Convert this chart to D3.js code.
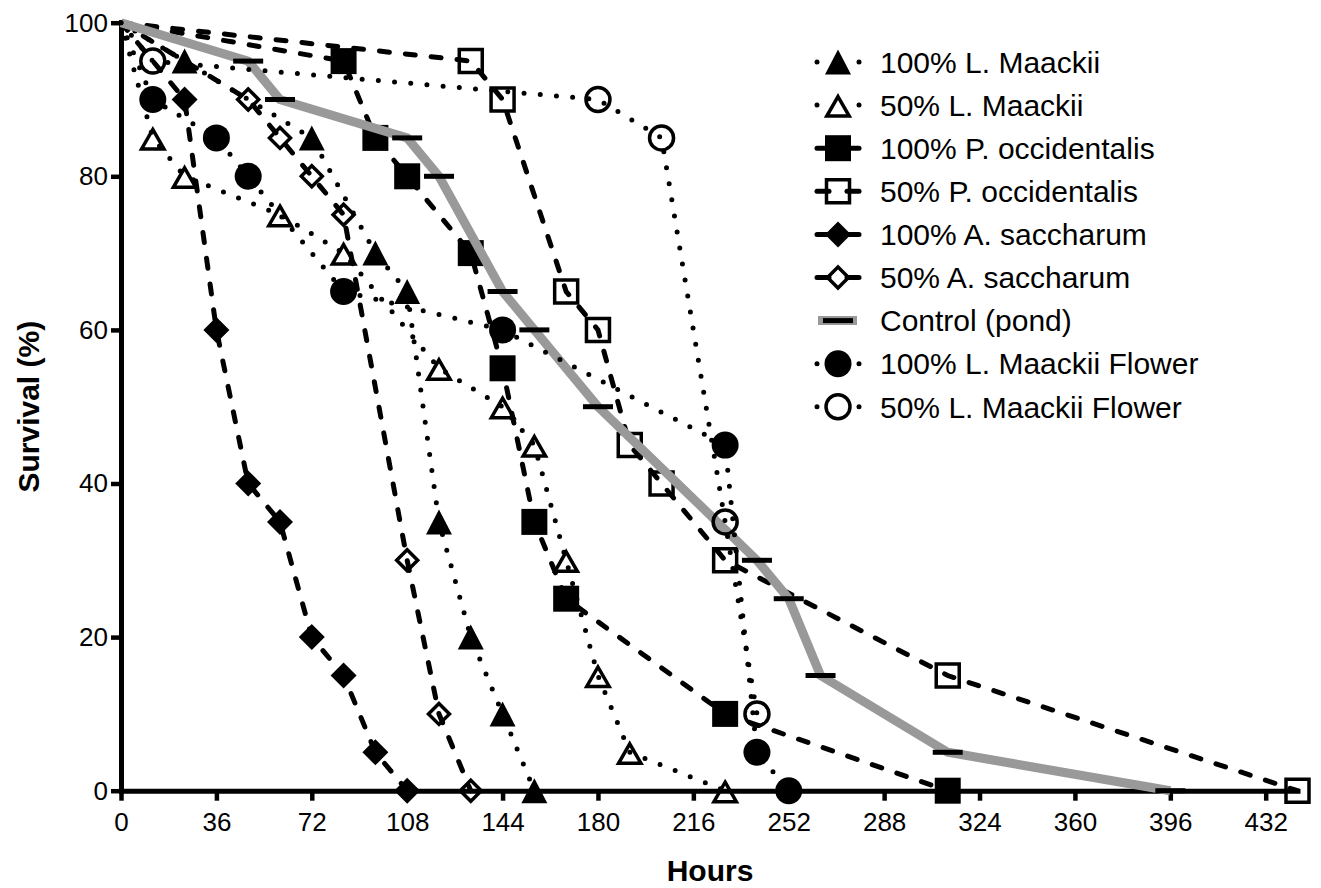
<!DOCTYPE html>
<html>
<head>
<meta charset="utf-8">
<title>Survival</title>
<script src="https://cdnjs.cloudflare.com/ajax/libs/d3/7.8.5/d3.min.js"></script>
<style>
    body { margin: 0; background: #fff; }
    svg { display: block; font-family: "Liberation Sans", Arial, Helvetica, sans-serif; }
    .axis .domain { stroke: #000; stroke-width: 5; fill: none; stroke-linecap: square; }
    .axis line { stroke: #000; stroke-width: 4.5; }
    .axis text { font-size: 26px; fill: #000; }
</style>
</head>
<body>
<script>
// values (hours, survival %)
var hoursTicks = [0, 36, 72, 108, 144, 180, 216, 252, 288, 324, 360, 396, 432];
var survivalTicks = [0, 20, 40, 60, 80, 100];

var lMaackii100 = [[0,100],[24,95],[72,85],[96,70],[108,65],[120,35],[132,20],[144,10],[156,0]];
var lMaackii50 = [[0,100],[12,85],[24,80],[60,75],[84,70],[120,55],[144,50],[156,45],[168,30],[180,15],[192,5],[228,0]];
var pOccidentalis100 = [[0,100],[84,95],[96,85],[108,80],[132,70],[144,55],[156,35],[168,25],[228,10],[312,0]];
var pOccidentalis50 = [[0,100],[132,95],[144,90],[168,65],[180,60],[192,45],[204,40],[228,30],[312,15],[444,0]];
var aSaccharum100 = [[0,100],[24,90],[36,60],[48,40],[60,35],[72,20],[84,15],[96,5],[108,0]];
var aSaccharum50 = [[0,100],[48,90],[60,85],[72,80],[84,75],[108,30],[120,10],[132,0]];
var controlPond = [[0,100],[48,95],[60,90],[108,85],[120,80],[144,65],[156,60],[180,50],[240,30],[252,25],[264,15],[312,5],[396,0]];
var flower100 = [[0,100],[12,90],[36,85],[48,80],[84,65],[144,60],[228,45],[240,5],[252,0]];
var flower50 = [[0,100],[12,95],[180,90],[204,85],[228,35],[240,10]];

var seriesNames = ["100% L. Maackii", "50% L. Maackii", "100% P. occidentalis", "50% P. occidentalis",
    "100% A. saccharum", "50% A. saccharum", "Control (pond)", "100% L. Maackii Flower", "50% L. Maackii Flower"];
var seriesData = [lMaackii100, lMaackii50, pOccidentalis100, pOccidentalis50,
    aSaccharum100, aSaccharum50, controlPond, flower100, flower50];
var seriesMarker = ["triFill", "triOpen", "sqFill", "sqOpen", "diaFill", "diaOpen", "bar", "cirFill", "cirOpen"];
var seriesLine = ["dot", "dot", "dash", "dash", "dash", "dash", "grey", "dot", "dot"];

var W = 1321, H = 888;
var svg = d3.select("body").append("svg").attr("width", W).attr("height", H);

var x = d3.scaleLinear().domain([0, 444]).range([121, 1297.5]);
var y = d3.scaleLinear().domain([0, 100]).range([790.7, 22.7]);

// axes
svg.append("g")
    .attr("class", "axis")
    .attr("transform", "translate(0," + y(0) + ")")
    .call(d3.axisBottom(x).tickValues(hoursTicks).tickSize(10).tickSizeOuter(0).tickPadding(12));

svg.append("g")
    .attr("class", "axis")
    .attr("transform", "translate(" + x(0) + ",0)")
    .call(d3.axisLeft(y).tickValues(survivalTicks).tickSize(10).tickSizeOuter(0).tickPadding(3));

svg.append("text")
    .attr("x", 710).attr("y", 881)
    .attr("text-anchor", "middle")
    .style("font-size", "30px").style("font-weight", "bold")
    .text("Hours");

svg.append("text")
    .attr("transform", "translate(39," + ((y(0) + y(100)) / 2) + ") rotate(-90)")
    .attr("text-anchor", "middle")
    .style("font-size", "30px").style("font-weight", "bold")
    .text("Survival (%)");

var shapes = {
    triFill: { d: "M0,-12.5L13,12.5L-13,12.5Z", fill: "#000", stroke: "none" },
    triOpen: { d: "M0,-8.5L11.2,11L-11.2,11Z", fill: "none", stroke: "#000" },
    sqFill: { d: "M-13,-13H13V13H-13Z", fill: "#000", stroke: "none" },
    sqOpen: { d: "M-11.5,-11.5H11.5V11.5H-11.5Z", fill: "none", stroke: "#000" },
    diaFill: { d: "M0,-13L13,0L0,13L-13,0Z", fill: "#000", stroke: "none" },
    diaOpen: { d: "M0,-10.5L10.5,0L0,10.5L-10.5,0Z", fill: "none", stroke: "#000" },
    cirFill: { d: "M13.5,0A13.5,13.5 0 1,1 -13.5,0A13.5,13.5 0 1,1 13.5,0Z", fill: "#000", stroke: "none" },
    cirOpen: { d: "M12,0A12,12 0 1,1 -12,0A12,12 0 1,1 12,0Z", fill: "none", stroke: "#000" },
    bar: { d: "M-15,-2.5H15V2.5H-15Z", fill: "#000", stroke: "none" }
};

function styleLine(sel, kind) {
    if (kind === "dot") {
        sel.attr("stroke", "#000").attr("stroke-width", 5)
            .attr("stroke-linecap", "round").attr("stroke-dasharray", "0,16.25");
    } else if (kind === "dash") {
        sel.attr("stroke", "#000").attr("stroke-width", 5)
            .attr("stroke-linecap", "round").attr("stroke-dasharray", "10,16");
    } else {
        sel.attr("stroke", "#999").attr("stroke-width", 9)
            .attr("stroke-linejoin", "miter");
    }
    return sel.attr("fill", "none");
}

function drawMarker(g, type, px, py) {
    var s = shapes[type];
    g.append("path")
        .attr("d", s.d)
        .attr("transform", "translate(" + px + "," + py + ")")
        .attr("fill", s.fill)
        .attr("stroke", s.stroke)
        .attr("stroke-width", 3.5)
        .attr("stroke-linejoin", "miter");
}

var line = d3.line()
    .x(function(d) { return x(d[0]); })
    .y(function(d) { return y(d[1]); });

seriesData.forEach(function(data, i) {
    var g = svg.append("g");
    styleLine(g.append("path").attr("d", line(data)), seriesLine[i]);
    data.slice(1).forEach(function(d) {
        drawMarker(g, seriesMarker[i], x(d[0]), y(d[1]));
    });
});

// legend
var legend = svg.append("g");
seriesNames.forEach(function(name, i) {
    var cy = 62 + i * 43.1;
    var row = legend.append("g");
    if (seriesLine[i] === "dot") {
        row.append("circle").attr("cx", 817).attr("cy", cy).attr("r", 2.5).attr("fill", "#000");
        row.append("circle").attr("cx", 859).attr("cy", cy).attr("r", 2.5).attr("fill", "#000");
    } else if (seriesLine[i] === "dash") {
        row.append("line").attr("x1", 817).attr("x2", 829).attr("y1", cy).attr("y2", cy)
            .attr("stroke", "#000").attr("stroke-width", 5).attr("stroke-linecap", "round");
        row.append("line").attr("x1", 847).attr("x2", 859).attr("y1", cy).attr("y2", cy)
            .attr("stroke", "#000").attr("stroke-width", 5).attr("stroke-linecap", "round");
    } else {
        row.append("line").attr("x1", 818).attr("x2", 857).attr("y1", cy).attr("y2", cy)
            .attr("stroke", "#999").attr("stroke-width", 9);
    }
    drawMarker(row, seriesMarker[i], 838, cy);
    row.append("text")
        .attr("x", 880).attr("y", cy + 10.7)
        .style("font-size", "30px")
        .text(name);
});
</script>
</body>
</html>
